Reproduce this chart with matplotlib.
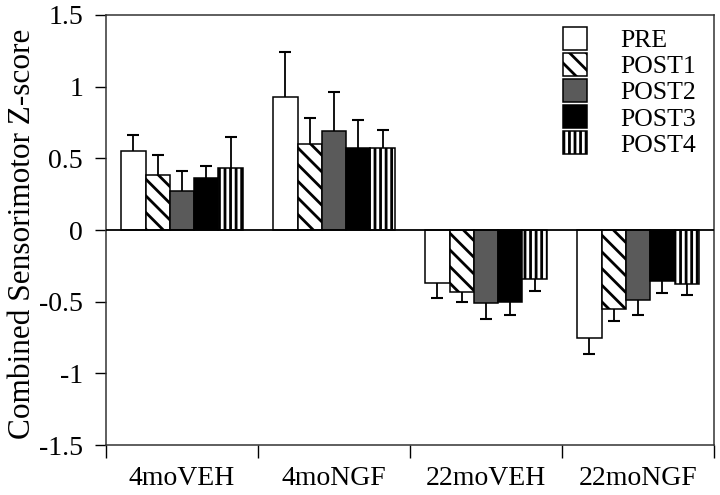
import numpy as np
import matplotlib
matplotlib.use("Agg")
import matplotlib.pyplot as plt

plt.rcParams['font.family'] = ['Liberation Serif', 'DejaVu Serif']
plt.rcParams['hatch.linewidth'] = 2.0

# group names and phases
groups = ["4moVEH", "4moNGF", "22moVEH", "22moNGF"]
phases = ["PRE", "POST1", "POST2", "POST3", "POST4"]

# mean Z-scores
pre = [0.55, 0.93, -0.37, -0.755]
post1 = [0.385, 0.60, -0.435, -0.55]
post2 = [0.275, 0.69, -0.51, -0.485]
post3 = [0.365, 0.57, -0.505, -0.355]
post4 = [0.43, 0.575, -0.34, -0.375]

# error bar lengths (drawn away from zero)
pre_err = [0.115, 0.31, 0.105, 0.11]
post1_err = [0.14, 0.18, 0.07, 0.083]
post2_err = [0.135, 0.27, 0.11, 0.11]
post3_err = [0.08, 0.20, 0.09, 0.088]
post4_err = [0.22, 0.125, 0.083, 0.08]

means = [pre, post1, post2, post3, post4]
errs = [pre_err, post1_err, post2_err, post3_err, post4_err]

# look of each phase: facecolor, hatch
styles = [
    ("white", None),
    ("white", "\\\\"),
    ("#5a5a5a", None),
    ("black", None),
    ("white", "|||"),
]

fig = plt.figure(figsize=(7.2, 4.95), dpi=100)
ax = fig.add_axes([0.1472, 0.101, 0.8445, 0.8687])

x = np.arange(len(groups))
w = 0.16
for i, (m, e, (fc, h)) in enumerate(zip(means, errs, styles)):
    xs = x + (i - 2) * w
    # errorbars sit behind the bars, so only the outer half shows
    ax.errorbar(xs, m, yerr=e, fmt="none", ecolor="black", elinewidth=1.3,
                capsize=4, capthick=1.5, zorder=1)
    ax.bar(xs, m, width=w, color=fc, hatch=h, edgecolor="black",
           linewidth=1.1, label=phases[i], zorder=2)

ax.axhline(0, color="black", lw=1.3, zorder=3)

ax.set_ylim(-1.5, 1.5)
ax.set_xlim(-0.5, len(groups) - 0.5)
ax.set_yticks([-1.5, -1, -0.5, 0, 0.5, 1, 1.5])
ax.set_yticklabels(["-1.5", "-1", "-0.5", "0", "0.5", "1", "1.5"])
ax.tick_params(axis="y", length=8, width=1, pad=8.5, labelsize=20)

ax.set_xticks(x)
ax.set_xticklabels(groups)
ax.set_xticks(np.arange(len(groups) + 1) - 0.5, minor=True)
ax.tick_params(axis="x", which="major", length=0, pad=15, labelsize=20)
ax.tick_params(axis="x", which="minor", length=9.5, width=1)

for s in ax.spines.values():
    s.set_linewidth(1.1)
    s.set_color("#333333")

ax.set_ylabel("Combined Sensorimotor Z-score", fontsize=22.5)
ax.yaxis.set_label_coords(-0.113, 0.49)

ax.legend(loc="upper left", bbox_to_anchor=(0.752, 0.972), frameon=False,
          fontsize=18.5, handlelength=0.93, handleheight=1.0,
          handletextpad=1.3, labelspacing=0.03, borderpad=0, borderaxespad=0)

fig.savefig("out.png", dpi=100)
